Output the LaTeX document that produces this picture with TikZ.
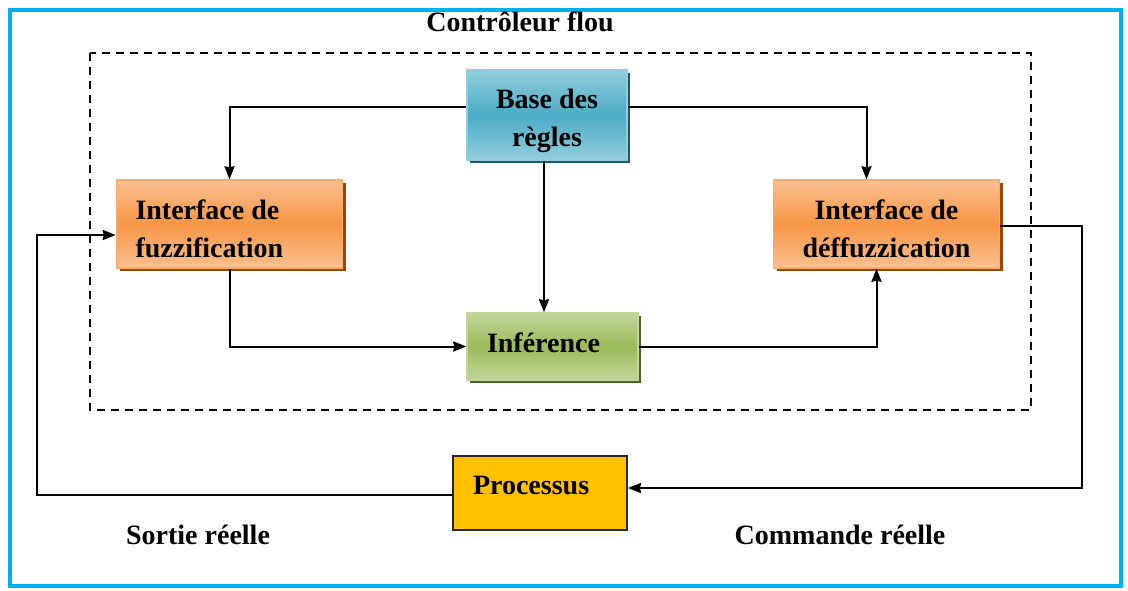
\documentclass[tikz,border=0pt]{standalone}
\usepackage{fontspec}
\setmainfont{Liberation Serif}
\usetikzlibrary{arrows.meta,shadows}

\definecolor{frameblue}{HTML}{00B0F0}
\definecolor{tealmid}{HTML}{4BACC6}
\definecolor{teallight}{HTML}{93CDDD}
\definecolor{tealdark}{HTML}{215968}
\definecolor{orangemid}{HTML}{F79646}
\definecolor{orangelight}{HTML}{FAC090}
\definecolor{orangedark}{HTML}{984807}
\definecolor{greenmid}{HTML}{9BBB59}
\definecolor{greenlight}{HTML}{C3D69B}
\definecolor{greendark}{HTML}{4F6228}
\definecolor{procyellow}{HTML}{FFC000}

% taller first line, pushes two-line texts a bit lower in their boxes
\newcommand{\firstline}{\rule{0pt}{29pt}}

\tikzset{
  block/.style={draw, line width=1.5pt, font=\fontsize{28}{38}\selectfont\bfseries,
    inner sep=0pt},
  rules/.style={block, draw=teallight, top color=teallight, bottom color=teallight,
    middle color=tealmid, align=center,
    drop shadow={shadow xshift=3pt, shadow yshift=-3pt, fill=tealdark, opacity=1}},
  iface/.style={block, draw=orangemid!80, top color=orangelight, bottom color=orangelight,
    middle color=orangemid,
    drop shadow={shadow xshift=3pt, shadow yshift=-3pt, fill=orangedark, opacity=1}},
  infer/.style={block, draw=greenlight, top color=greenlight, bottom color=greenlight,
    middle color=greenmid, align=flush left,
    drop shadow={shadow xshift=3pt, shadow yshift=-3pt, fill=greendark, opacity=1}},
  lbl/.style={font=\fontsize{28}{34}\selectfont\bfseries},
  link/.style={line width=2pt, ->}
}

\begin{document}
\begin{tikzpicture}[x=1pt, y=-1pt, >={Stealth[length=13pt, width=10pt, inset=1pt]}]
\useasboundingbox (0,0) rectangle (1128,590);

% outer frame and controller border
\draw[frameblue, line width=4.5pt] (10,10) rectangle (1121,586);
\draw[line width=2pt, dash pattern=on 8pt off 6pt] (90,53) rectangle (1031,410);
\node[lbl] (title) at (520,22) {Contrôleur flou};

% blocks
\node[rules, minimum width=160pt, minimum height=90pt] (base) at (547,115) {\rule{0pt}{31pt}Base des\\règles};
\node[iface, minimum width=226pt, minimum height=88pt, text width=188pt, align=flush left] (fuzz) at (229.5,224) {\firstline Interface de\\fuzzification};
\node[iface, minimum width=226pt, minimum height=88pt, align=center] (defuzz) at (886.5,224) {\firstline Interface de\\déffuzzication};
\node[infer, minimum width=171pt, minimum height=67pt, text width=131pt, text depth=8pt] (inf) at (552.5,346.5) {Inférence};
\node[block, fill=procyellow, draw=black!85, line width=2pt, minimum width=174pt, minimum height=74pt,
  text width=134pt, align=flush left, text depth=16pt] (proc) at (540,493) {Processus};

\node[lbl] (sortie) at (198,535) {Sortie réelle};
\node[lbl] (commande) at (840,535) {Commande réelle};

% connectors
\draw[link] ([yshift=8pt]base.west) -| (fuzz.north);
\draw[link] ([yshift=8pt]base.east) -| ([xshift=-20pt]defuzz.north);
\draw[link] ([xshift=-3pt]base.south) -- ([xshift=-3pt]base.south |- inf.north);
\draw[link] (fuzz.south) |- (inf.west);
\draw[link] (inf.east) -| ([xshift=-10pt]defuzz.south);
\coordinate (c1) at (1082,226);
\draw[link] (defuzz.east |- c1) -- (c1) |- ([yshift=5pt]proc.east);
\coordinate (c2) at (37,235);
\draw[link] ([yshift=-2pt]proc.west) -| (c2) -- (c2 -| fuzz.west);
\end{tikzpicture}
\end{document}
